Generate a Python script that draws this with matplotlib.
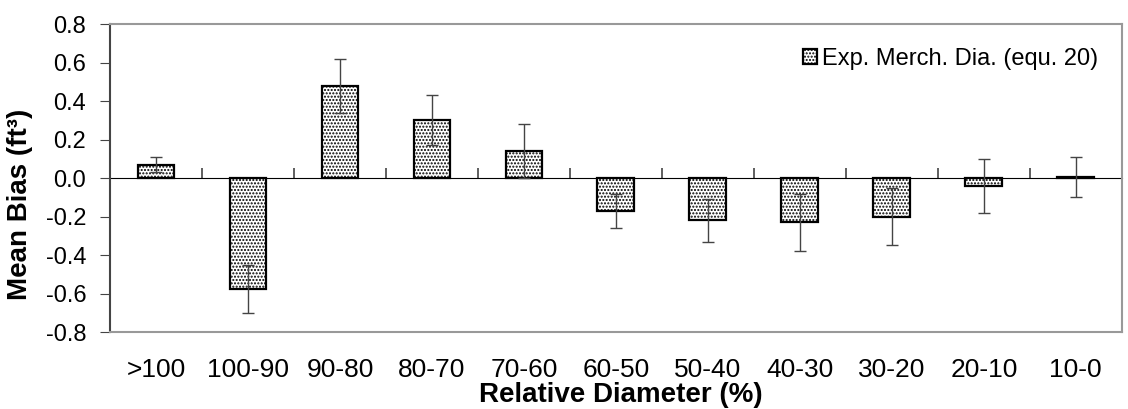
import numpy as np
import matplotlib
matplotlib.use('Agg')
import matplotlib.pyplot as plt

# Mean bias by relative diameter class
categories = ['>100', '100-90', '90-80', '80-70', '70-60', '60-50',
              '50-40', '40-30', '30-20', '20-10', '10-0']
mean_bias = [0.07, -0.575, 0.48, 0.30, 0.14, -0.17, -0.22, -0.23, -0.20, -0.04, 0.005]
bias_err = [0.04, 0.125, 0.14, 0.13, 0.14, 0.09, 0.11, 0.15, 0.15, 0.14, 0.105]
y_ticks = [-0.8, -0.6, -0.4, -0.2, 0.0, 0.2, 0.4, 0.6, 0.8]

plt.rcParams['font.family'] = ['Liberation Sans', 'DejaVu Sans']
plt.rcParams['hatch.linewidth'] = 1.0

fig = plt.figure(figsize=(11.28, 4.09), dpi=100)
ax = fig.add_axes([0.0975, 0.188, 0.897, 0.753])

x = np.arange(len(categories))
ax.bar(x, mean_bias, width=0.4, color='white', edgecolor='black',
       linewidth=1.6, hatch='.....', label='Exp. Merch. Dia. (equ. 20)', zorder=2)
ax.errorbar(x, mean_bias, yerr=bias_err, fmt='none', ecolor='#444444',
            elinewidth=1.0, capsize=4, capthick=1.0, zorder=3)

ax.set_xlim(-0.5, len(categories) - 0.5)
ax.set_ylim(-0.8, 0.8)
ax.set_yticks(y_ticks)
ax.set_yticklabels([f'{v:.1f}' for v in y_ticks], fontsize=17)
ax.tick_params(axis='y', direction='out', length=7, color='#444444', pad=10)

ax.set_xticks(x)
ax.set_xticklabels(categories, fontsize=19)
ax.tick_params(axis='x', length=0, pad=19)

# zero line with ticks at the class boundaries
zero_ax = ax.secondary_xaxis(0.5)
zero_ax.set_xticks(np.arange(len(categories) + 1) - 0.5)
zero_ax.set_xticklabels([])
zero_ax.tick_params(axis='x', direction='out', length=7, color='#444444', width=1.2)
zero_ax.spines['bottom'].set_color('#444444')
zero_ax.spines['bottom'].set_linewidth(1.2)

for side in ['top', 'right', 'bottom']:
    ax.spines[side].set_color('#999999')
    ax.spines[side].set_linewidth(1.5)
ax.spines['left'].set_color('#444444')
ax.spines['left'].set_linewidth(1.5)

ax.set_ylabel('Mean Bias (ft³)', fontsize=20, fontweight='bold')
ax.yaxis.set_label_coords(-0.076, 0.416)
ax.set_xlabel('Relative Diameter (%)', fontsize=20, fontweight='bold')
ax.xaxis.set_label_coords(0.505, -0.162)

ax.legend(loc='upper right', frameon=False, fontsize=17, handlelength=0.6,
          handleheight=0.6, handletextpad=0.2, borderaxespad=0.6)

fig.savefig('out.png', dpi=100)
